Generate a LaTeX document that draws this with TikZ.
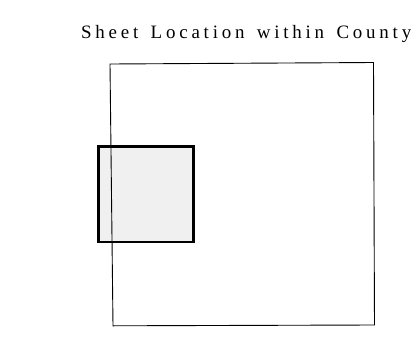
\documentclass[tikz,border=0pt]{standalone}
\usepackage{fontspec}
\setmainfont{Liberation Serif}
\newfontfamily\spacedfont[LetterSpace=20,WordSpace=1.45]{Liberation Serif}
\usetikzlibrary{positioning}

\begin{document}
\begin{tikzpicture}[x=1bp, y=-1bp]
    \useasboundingbox (0,0) rectangle (415,348);

    % title over the map
    \node[anchor=base west, inner sep=0] (title) at (81,38)
        {\fontsize{19}{21}\spacedfont Sheet Location within County};

    % sheet box
    \node[draw, line width=2.6bp, fill=black!6, inner sep=0,
          minimum width=95.2bp, minimum height=95.5bp] (sheet) at (146.1,194.2) {};

    % county outline
    \coordinate (nw) at (110,64);
    \coordinate (ne) at (373.5,62.5);
    \coordinate (se) at (374.5,325);
    \coordinate (sw) at (113,325.8);
    \draw[line width=0.9bp] (nw) -- (ne) -- (se) -- (sw) -- cycle;
\end{tikzpicture}
\end{document}
